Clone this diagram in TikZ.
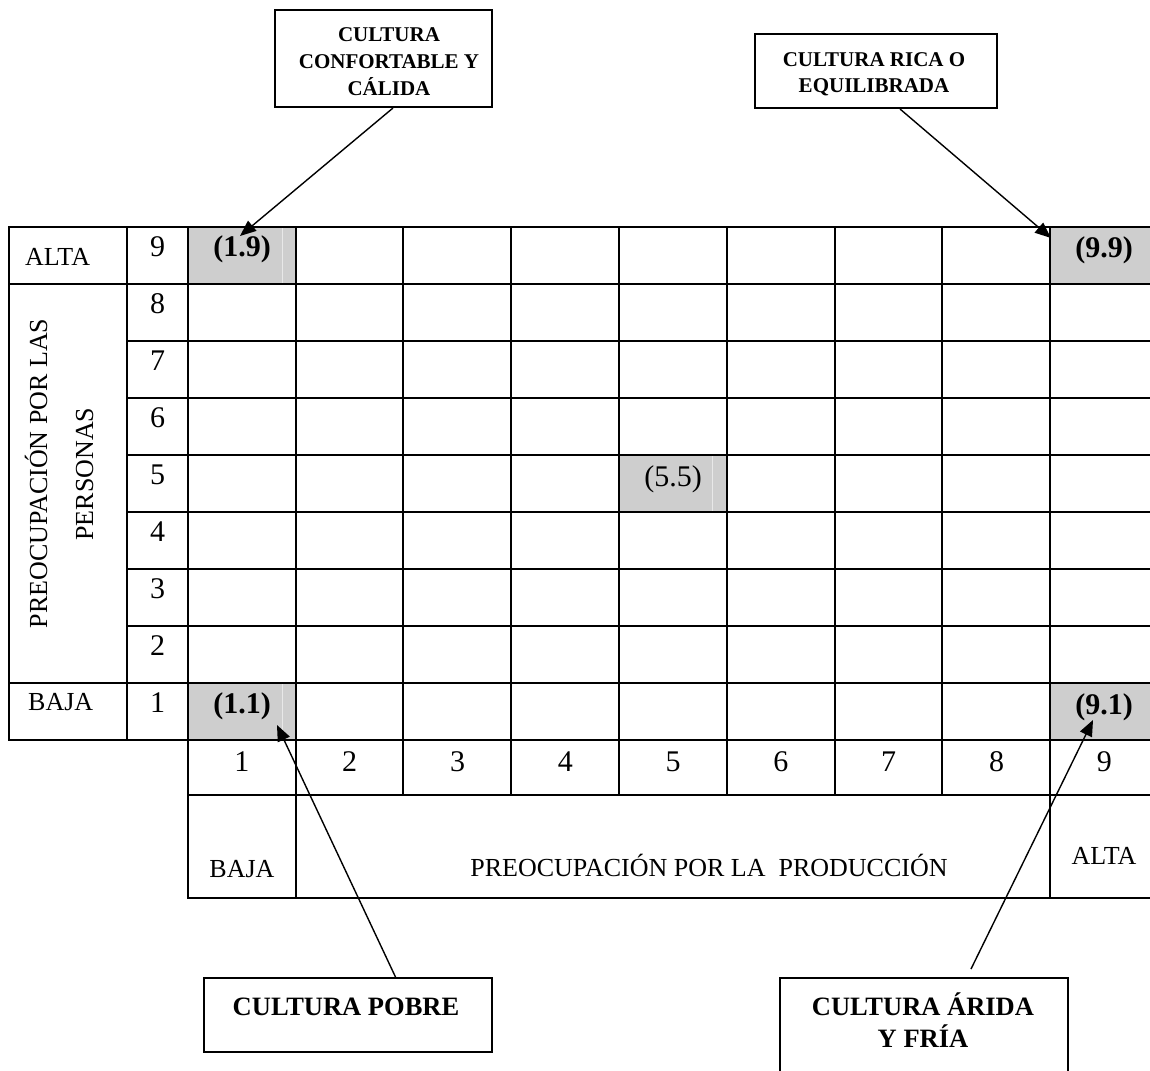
\documentclass[tikz,border=0pt]{standalone}
\usepackage{fontspec}
\setmainfont{Liberation Serif}
\usetikzlibrary{arrows.meta}
\definecolor{cellgray}{RGB}{206,206,206}
\definecolor{seamgray}{RGB}{232,232,232}
\begin{document}
\begin{tikzpicture}[x=1pt,y=-1pt,
  grid/.style={line width=2.2pt, line cap=rect},
  lbl/.style={font=\fontsize{26}{30}\selectfont, inner sep=0pt, anchor=base},
  num/.style={font=\fontsize{30}{34}\selectfont, inner sep=0pt, anchor=base},
  coordb/.style={font=\fontsize{30}{34}\selectfont\bfseries, inner sep=0pt, anchor=base},
  box/.style={draw, line width=2pt, inner sep=0pt},
  toptxt/.style={font=\fontsize{21}{27}\selectfont\bfseries, inner sep=0pt, anchor=base},
  bottxt/.style={font=\fontsize{26.5}{31}\selectfont\bfseries, inner sep=0pt, anchor=base},
  arr/.style={line width=1.4pt, -{Triangle[length=16pt,width=13pt]}}
]
\useasboundingbox (0,0) rectangle (1150,1070);
\clip (0,0) rectangle (1150,1070);

% shaded cells
\fill[cellgray] (188,227) rectangle (296,284);
\fill[cellgray] (1050,227) rectangle (1158,284);
\fill[cellgray] (188,683) rectangle (296,740);
\fill[cellgray] (1050,683) rectangle (1158,740);
\fill[cellgray] (619,455) rectangle (727,512);
\draw[seamgray, line width=0.8pt] (282,228) -- (282,283);
\draw[seamgray, line width=0.8pt] (282,684) -- (282,739);
\draw[seamgray, line width=0.8pt] (712,456) -- (712,511);

% grid lines
\draw[grid] (9,227) -- (1158,227);
\draw[grid] (9,284) -- (1158,284);
\foreach \yy in {341,398,455,512,569,626} \draw[grid] (127,\yy) -- (1158,\yy);
\draw[grid] (9,683) -- (1158,683);
\draw[grid] (9,740) -- (1158,740);
\draw[grid] (188,795) -- (1158,795);
\draw[grid] (188,898) -- (1158,898);
\draw[grid] (9,227) -- (9,740);
\draw[grid] (127,227) -- (127,740);
\draw[grid] (188,227) -- (188,898);
\foreach \xx in {403,511,619,727,835,942} \draw[grid] (\xx,227) -- (\xx,795);
\draw[grid] (296,227) -- (296,898);
\draw[grid] (1050,227) -- (1050,898);
\draw[grid] (1158,227) -- (1158,898);

% left labels
\node[lbl, anchor=base west] (altaL) at (25,265) {ALTA};
\node[lbl, anchor=base west] (bajaL) at (28,710) {BAJA};
\node[lbl, rotate=90] (rot1) at (47,473.5) {PREOCUPACIÓN POR LAS};
\node[lbl, rotate=90] (rot2) at (93,474) {PERSONAS};

% row numbers
\foreach \r in {1,...,9} {
  \pgfmathsetmacro{\yb}{227+(9-\r)*57+29}
  \node[num] (rn\r) at (157.5,\yb) {\r};
}
% column numbers
\foreach \c in {1,...,9} {
  \pgfmathsetmacro{\xc}{188+(\c-0.5)*107.8}
  \node[num] (cn\c) at (\xc,771) {\c};
}

% cell coordinates
\node[coordb] (c19) at (242,256) {(1.9)};
\node[coordb] (c99) at (1104,257) {(9.9)};
\node[coordb] (c11) at (242,713) {(1.1)};
\node[coordb] (c91) at (1104,714) {(9.1)};
\node[num] (c55) at (673,486) {(5.5)};

% bottom axis labels
\node[lbl] (bajaB) at (242,877) {BAJA};
\node[lbl] (prod) at (709,876) {PREOCUPACIÓN POR LA\ \ PRODUCCIÓN};
\node[lbl] (altaB) at (1104,864) {ALTA};

% callout boxes
\node[box, minimum width=217pt, minimum height=97pt] (box1) at (383.5,58.5) {};
\node[toptxt] (b1a) at (389,42) {CULTURA};
\node[toptxt] (b1b) at (389,69) {CONFORTABLE Y};
\node[toptxt] (b1c) at (389,96) {CÁLIDA};

\node[box, minimum width=242pt, minimum height=74pt] (box2) at (876,71) {};
\node[toptxt] (b2a) at (874,67) {CULTURA RICA O};
\node[toptxt] (b2b) at (874,93) {EQUILIBRADA};

\node[box, minimum width=288pt, minimum height=74pt] (box3) at (348,1015) {};
\node[bottxt] (b3a) at (346,1015) {CULTURA POBRE};

\node[box, minimum width=288pt, minimum height=112pt] (box4) at (924,1034) {};
\node[bottxt] (b4a) at (923,1015) {CULTURA ÁRIDA};
\node[bottxt] (b4b) at (923,1047) {Y FRÍA};

% arrow targets
\coordinate (t19) at (240,236);
\coordinate (t99) at (1051,238);
\coordinate (t11) at (277,725);
\coordinate (t91) at (1093,720);

\draw[arr] ([xshift=9.5pt]box1.south) -- (t19);
\draw[arr] ([xshift=24pt]box2.south) -- (t99);
\draw[arr] ([xshift=47.5pt]box3.north) -- (t11);
\draw[arr] ([xshift=47pt,yshift=8pt]box4.north) -- (t91);
\end{tikzpicture}
\end{document}
